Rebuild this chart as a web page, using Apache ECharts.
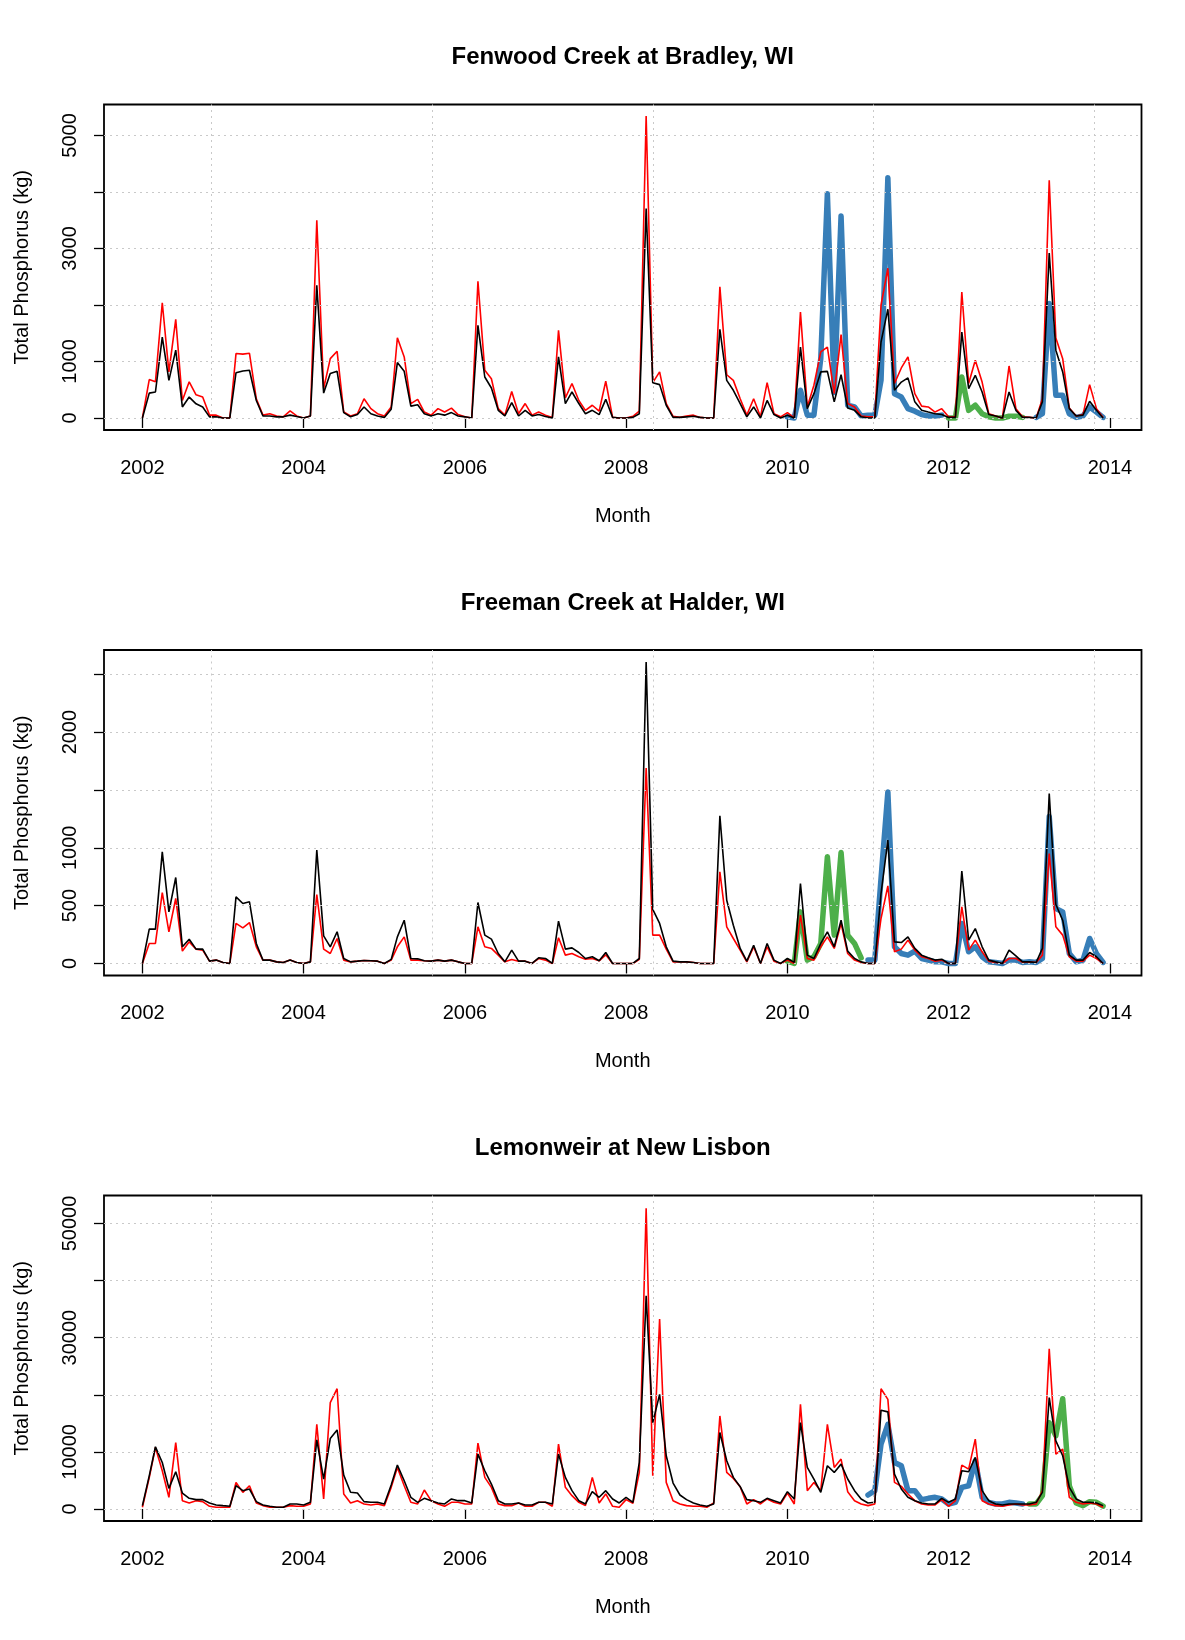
<!DOCTYPE html>
<html>
<head>
<meta charset="utf-8">
<script src="https://cdn.jsdelivr.net/npm/echarts@6/dist/echarts.min.js"></script>
<style>
  html, body { margin: 0; padding: 0; background: #fff; }
  #chart { width: 1185px; height: 1640px; }
</style>
</head>
<body>
<div id="chart"></div>
<script>
// Monthly total phosphorus loads (kg), Jan 2002 .. Dec 2013, one value per month.
const yearTickLabels = ['2002', '2004', '2006', '2008', '2010', '2012', '2014'];
const vGridDays = [12000, 13000, 14000, 15000, 16000]; // days since 1970-01-01

// ---- Fenwood Creek at Bradley, WI ----
const fenRed = [
  0, 680, 640, 2040, 815, 1745, 310, 640, 410, 370, 50, 50,
  0, 0, 1140, 1130, 1145, 340, 50, 75, 35, 20, 125, 35,
  0, 35, 3500, 520, 1050, 1180, 105, 35, 75, 340, 165, 75,
  35, 195, 1420, 1080, 255, 330, 105, 50, 165, 105, 175, 60,
  20, 0, 2420, 845, 695, 165, 50, 470, 75, 255, 50, 105,
  50, 10, 1550, 355, 610, 310, 135, 225, 120, 650, 10, 0,
  0, 30, 120, 5345, 625, 815, 255, 30, 10, 35, 50, 10,
  0, 0, 2320, 765, 665, 340, 50, 340, 20, 625, 75, 20,
  95, 0, 1875, 195, 580, 1170, 1255, 430, 1475, 255, 195, 35,
  20, 20, 1995, 2650, 610, 885, 1080, 430, 210, 195, 105, 165,
  20, 20, 2230, 610, 1020, 635, 75, 35, 0, 920, 165, 20,
  10, 0, 340, 4205, 1415, 1050, 175, 35, 60, 590, 165, 10
];
const fenBlack = [
  0, 440, 460, 1430, 665, 1200, 195, 370, 250, 195, 20, 20,
  0, 0, 800, 830, 845, 310, 35, 35, 20, 20, 50, 25,
  0, 35, 2350, 440, 785, 825, 95, 20, 60, 195, 75, 35,
  10, 155, 980, 825, 210, 235, 75, 35, 75, 50, 95, 35,
  20, 0, 1640, 725, 530, 135, 35, 270, 35, 135, 35, 60,
  25, 0, 1080, 255, 460, 255, 75, 135, 60, 330, 10, 0,
  0, 10, 75, 3705, 625, 590, 225, 10, 10, 20, 30, 10,
  0, 0, 1570, 665, 490, 255, 20, 195, 0, 310, 60, 0,
  50, 0, 1255, 165, 430, 815, 825, 285, 765, 175, 135, 20,
  0, 0, 1345, 1925, 490, 635, 710, 285, 135, 105, 75, 60,
  10, 10, 1520, 520, 755, 460, 60, 35, 0, 460, 135, 10,
  10, 0, 285, 2920, 1200, 815, 165, 35, 50, 295, 135, 0
];
const fenBlueA = [ // Jan 2010 .. Dec 2011
  20, 0, 490, 50, 50, 1050, 3970, 450, 3575, 225, 195, 35,
  50, 50, 665, 4250, 430, 370, 165, 120, 60, 35, 35, 50
];
const fenGreen = [ // Jan 2012 .. Dec 2012
  0, 0, 725, 135, 225, 75, 20, 0, 0, 30, 30, 10
];
const fenBlueB = [ // Feb 2013 .. Dec 2013
  10, 75, 2025, 400, 400, 75, 10, 35, 195, 105, 10
];

// ---- Freeman Creek at Halder, WI ----
const freRed = [
  0, 173, 173, 613, 274, 562, 107, 187, 124, 115, 20, 29,
  9, 0, 346, 308, 354, 144, 29, 29, 14, 9, 29, 9,
  0, 14, 596, 124, 86, 216, 29, 14, 20, 26, 23, 20,
  0, 29, 144, 230, 29, 29, 23, 20, 29, 20, 29, 14,
  0, 0, 317, 144, 130, 72, 14, 35, 20, 20, 0, 43,
  29, 0, 222, 72, 86, 58, 37, 43, 23, 75, 0, 0,
  0, 0, 35, 1690, 245, 245, 124, 14, 14, 14, 9, 0,
  0, 0, 792, 317, 216, 115, 14, 144, 0, 144, 20, 0,
  29, 0, 418, 43, 29, 144, 230, 130, 346, 86, 29, 9,
  0, 0, 389, 671, 101, 124, 202, 115, 58, 43, 20, 29,
  0, 0, 490, 115, 202, 101, 20, 9, 0, 43, 43, 9,
  14, 9, 72, 950, 317, 245, 58, 20, 20, 72, 43, 0
];
const freBlack = [
  0, 297, 297, 965, 446, 743, 144, 210, 124, 124, 20, 29,
  9, 0, 576, 518, 533, 173, 29, 29, 14, 9, 29, 9,
  0, 14, 980, 239, 144, 274, 43, 14, 20, 26, 23, 20,
  0, 35, 230, 374, 43, 40, 23, 20, 29, 20, 29, 14,
  0, 0, 527, 245, 210, 86, 14, 115, 20, 20, 0, 49,
  43, 0, 366, 124, 135, 95, 43, 58, 23, 95, 0, 0,
  0, 0, 43, 2606, 467, 346, 144, 20, 14, 14, 9, 0,
  0, 0, 1276, 547, 331, 130, 20, 158, 0, 173, 29, 0,
  43, 9, 691, 72, 43, 173, 274, 144, 374, 107, 43, 14,
  0, 0, 605, 1066, 187, 181, 230, 130, 72, 49, 29, 37,
  0, 0, 798, 202, 302, 144, 29, 14, 0, 115, 66, 14,
  14, 9, 130, 1469, 510, 374, 72, 29, 29, 95, 58, 0
];
const freGreen = [ // Jan 2010 .. Dec 2010
  20, 0, 446, 29, 58, 173, 922, 245, 959, 245, 173, 49
];
const freBlue = [ // Jan 2011 .. Dec 2013
  29, 29, 734, 1483, 144, 86, 72, 107, 43, 29, 14, 14,
  0, 0, 346, 101, 144, 58, 14, 9, 0, 29, 29, 9,
  14, 9, 43, 1270, 475, 446, 86, 14, 29, 216, 86, 9
];

// ---- Lemonweir at New Lisbon ----
const lemRed = [
  290, 5500, 10760, 6690, 2040, 11630, 1450, 1050, 1450, 1280, 465, 290,
  290, 290, 4650, 2900, 4070, 1050, 580, 290, 290, 290, 580, 465,
  465, 870, 14830, 1750, 18610, 21060, 2620, 1050, 1450, 870, 700, 870,
  580, 3780, 7270, 4070, 1160, 870, 3320, 1450, 870, 465, 1160, 1160,
  870, 870, 11520, 5530, 3780, 870, 580, 580, 1050, 465, 465, 1160,
  1160, 465, 11340, 3780, 2330, 1160, 580, 5530, 1050, 2620, 465, 290,
  1630, 1000, 6400, 52650, 5820, 33270, 4650, 1450, 870, 580, 465, 465,
  290, 1050, 16290, 6400, 5350, 3900, 870, 1630, 870, 1750, 1160, 870,
  2790, 870, 18320, 3200, 4650, 3200, 14830, 7270, 8730, 3020, 1450, 870,
  580, 870, 21060, 19200, 4650, 3960, 2620, 1450, 870, 700, 700, 1630,
  465, 1450, 7680, 6980, 12220, 1450, 870, 580, 465, 700, 870, 700,
  700, 870, 3200, 28040, 9600, 10470, 2040, 1160, 870, 1050, 870, 290
];
const lemBlack = [
  580, 5800, 10900, 8140, 3600, 6510, 2790, 1860, 1630, 1630, 1050, 700,
  580, 465, 4070, 3200, 3490, 1280, 700, 465, 290, 290, 870, 870,
  700, 1160, 12100, 5240, 12330, 13840, 5930, 2910, 2790, 1280, 1160, 1160,
  870, 4190, 7680, 4940, 2040, 1160, 1860, 1450, 1050, 870, 1750, 1450,
  1450, 1050, 9600, 6690, 4360, 1450, 870, 870, 1050, 700, 700, 1160,
  1160, 870, 9600, 5530, 3200, 1450, 870, 3020, 2040, 3200, 1750, 1050,
  2040, 1160, 8140, 37350, 15120, 20070, 9310, 4540, 2440, 1630, 1050, 700,
  465, 870, 13380, 8430, 5530, 3900, 1630, 1450, 1160, 1860, 1450, 1050,
  3020, 1750, 15120, 7270, 5240, 2910, 7560, 6400, 7850, 5240, 3200, 1750,
  1050, 1160, 17300, 17000, 6110, 3490, 2040, 1450, 1050, 870, 870, 1860,
  1160, 1750, 6690, 6510, 9020, 3200, 1450, 870, 700, 870, 870, 870,
  870, 1160, 2910, 19490, 11920, 9310, 3780, 1750, 1160, 1160, 1050, 580
];
const lemBlue = [ // Jan 2011 .. Dec 2012
  2440, 3200, 11340, 14830, 8140, 7560, 3200, 3200, 1630, 1860, 2040, 1750,
  870, 1160, 3780, 4070, 8430, 2040, 1160, 870, 870, 1160, 1050, 870
];
const lemGreen = [ // Jan 2013 .. Dec 2013
  870, 870, 2330, 15120, 12800, 19310, 4070, 1050, 580, 1280, 1160, 500
];

// Axis ticks and the labels R prints (overlapping ones dropped)
const fenYTicks = [0, 1000, 2000, 3000, 4000, 5000];
const fenYLabels = [0, 1000, 3000, 5000];
const freYTicks = [0, 500, 1000, 1500, 2000, 2500];
const freYLabels = [0, 500, 1000, 2000];
const lemYTicks = [0, 10000, 20000, 30000, 40000, 50000];
const lemYLabels = [0, 10000, 30000, 50000];

const RED = '#ff0000', BLACK = '#000000', BLUE = '#377EB8', GREEN = '#4DAF4A';
const FONT = '"Liberation Sans", Arial, Helvetica, sans-serif';
const DAY = 86400000;

const monthDates = [];
for (let i = 0; i < 144; i++) monthDates.push(Date.UTC(2002, i, 1));
const monthIndex = (y, m) => (y - 2002) * 12 + (m - 1);

const yearTicks = yearTickLabels.map(y => Date.UTC(+y, 0, 1));
const xMin = Date.UTC(2001, 6, 11), xMax = Date.UTC(2014, 4, 24);

const panels = [
  {
    title: 'Fenwood Creek at Bradley, WI', red: fenRed, black: fenBlack,
    thick: [
      { color: BLUE, start: monthIndex(2010, 1), values: fenBlueA },
      { color: GREEN, start: monthIndex(2012, 1), values: fenGreen },
      { color: BLUE, start: monthIndex(2013, 2), values: fenBlueB }
    ],
    yMin: -213, yMax: 5548, ticks: fenYTicks, labels: fenYLabels, top: 104.5
  },
  {
    title: 'Freeman Creek at Halder, WI', red: freRed, black: freBlack,
    thick: [
      { color: GREEN, start: monthIndex(2010, 1), values: freGreen },
      { color: BLUE, start: monthIndex(2011, 1), values: freBlue }
    ],
    yMin: -104, yMax: 2710, ticks: freYTicks, labels: freYLabels, top: 650
  },
  {
    title: 'Lemonweir at New Lisbon', red: lemRed, black: lemBlack,
    thick: [
      { color: BLUE, start: monthIndex(2011, 1), values: lemBlue },
      { color: GREEN, start: monthIndex(2013, 1), values: lemGreen }
    ],
    yMin: -2112, yMax: 54900, ticks: lemYTicks, labels: lemYLabels, top: 1195.5
  }
];

const GRID_LEFT = 104, GRID_W = 1037.5, GRID_H = 325.5;

const grids = [], xAxes = [], yAxes = [], titles = [], series = [];

panels.forEach((p, k) => {
  grids.push({
    left: GRID_LEFT, top: p.top, width: GRID_W, height: GRID_H,
    show: true, borderColor: '#000', borderWidth: 1.8, backgroundColor: 'transparent'
  });
  titles.push({
    text: p.title, left: GRID_LEFT + GRID_W / 2 - 5, top: p.top - 64, textAlign: 'center',
    textStyle: { fontFamily: FONT, fontSize: 24, fontWeight: 'bold', color: '#000' }
  });
  xAxes.push({
    gridIndex: k, type: 'value', min: xMin, max: xMax,
    axisLine: { show: false },
    axisTick: { show: true, customValues: yearTicks, length: 10, lineStyle: { color: '#000', width: 1.3 } },
    axisLabel: {
      customValues: yearTicks, margin: 28, fontSize: 20, color: '#000', fontFamily: FONT,
      formatter: v => yearTickLabels[yearTicks.indexOf(v)] || String(new Date(v).getUTCFullYear())
    },
    splitLine: { show: false },
    name: 'Month', nameLocation: 'middle', nameGap: 76,
    nameTextStyle: { fontSize: 20, color: '#000', fontFamily: FONT }
  });
  yAxes.push({
    gridIndex: k, type: 'value', min: p.yMin, max: p.yMax,
    axisLine: { show: false },
    axisTick: { show: true, customValues: p.ticks, length: 10, lineStyle: { color: '#000', width: 1.3 } },
    axisLabel: {
      customValues: p.labels, rotate: 90, margin: 24, fontSize: 20, color: '#000', fontFamily: FONT,
      formatter: v => String(v)
    },
    splitLine: { show: false },
    name: 'Total Phosphorus (kg)', nameLocation: 'middle', nameGap: 72, nameRotate: 90,
    nameTextStyle: { fontSize: 20, color: '#000', fontFamily: FONT }
  });

  // dotted reference grid (horizontal at y ticks, vertical at round day counts)
  series.push({
    type: 'line', xAxisIndex: k, yAxisIndex: k, data: [], silent: true, z: 1,
    markLine: {
      silent: true, symbol: 'none', animation: false,
      label: { show: false },
      lineStyle: { color: '#c9c9c9', type: [2, 4], width: 1 },
      emphasis: { disabled: true },
      data: p.ticks.map(v => ({ yAxis: v })).concat(vGridDays.map(d => ({ xAxis: d * DAY })))
    }
  });

  p.thick.forEach(seg => {
    series.push({
      type: 'line', xAxisIndex: k, yAxisIndex: k, showSymbol: false, symbol: 'none', z: 2,
      lineStyle: { color: seg.color, width: 5.5, join: 'round', cap: 'round' },
      data: seg.values.map((v, j) => [monthDates[seg.start + j], v])
    });
  });
  series.push({
    type: 'line', xAxisIndex: k, yAxisIndex: k, showSymbol: false, symbol: 'none', z: 3,
    lineStyle: { color: RED, width: 1.6 },
    data: p.red.map((v, i) => [monthDates[i], v])
  });
  series.push({
    type: 'line', xAxisIndex: k, yAxisIndex: k, showSymbol: false, symbol: 'none', z: 4,
    lineStyle: { color: BLACK, width: 1.6 },
    data: p.black.map((v, i) => [monthDates[i], v])
  });
});

const chart = echarts.init(document.getElementById('chart'), null, { renderer: 'canvas' });
chart.setOption({
  animation: false,
  backgroundColor: '#fff',
  title: titles,
  grid: grids,
  xAxis: xAxes,
  yAxis: yAxes,
  series: series
});
</script>
</body>
</html>
